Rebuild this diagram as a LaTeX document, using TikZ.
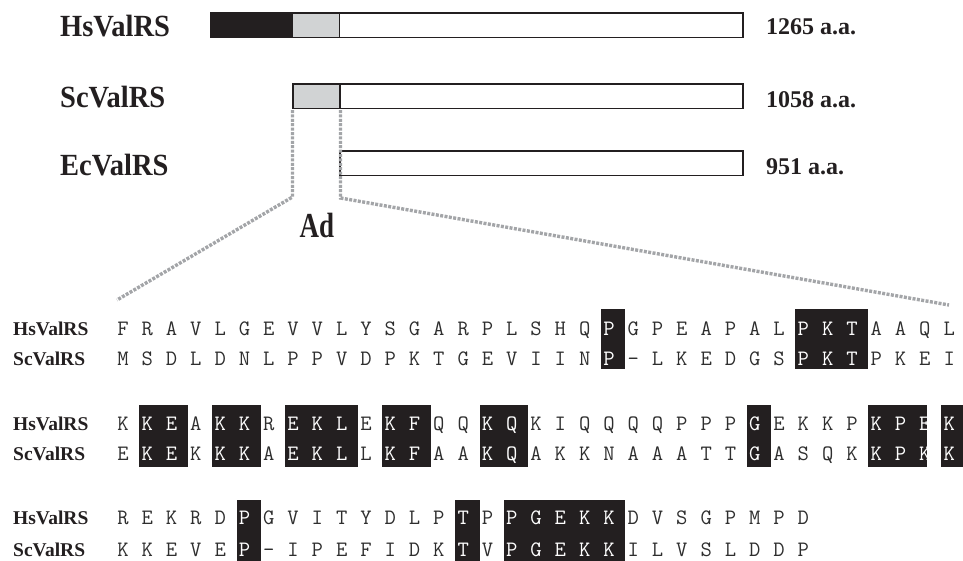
\documentclass[tikz,border=0pt]{standalone}
\usepackage{fontspec}
\setmainfont{Liberation Serif}
\definecolor{ink}{HTML}{231F20}
\definecolor{domgray}{HTML}{D1D3D4}
\definecolor{dashgray}{HTML}{A3A5A8}
\definecolor{seqink}{HTML}{2E2E2E}

% choose the letter colour of column #1: white when listed in #2
\makeatletter
\newcommand\pickink[2]{%
  \edef\pk@tmp{\noexpand\in@{,#1,}{#2}}\pk@tmp
  \ifin@\def\inkcol{white}\else\def\inkcol{seqink}\fi}
\makeatother

% column geometry of the alignment
\def\cx{123}
\def\cw{24.3}
% shaded columns of each block
\def\hlA{,21,29,30,31,}
\def\hlB{,2,3,5,6,8,9,10,12,13,16,17,27,32,33,34,35,}
\def\hlC{,6,15,17,18,19,20,21,}

\tikzset{
  biglabel/.style={font=\bfseries\fontsize{28.5}{30}\selectfont, text=ink, inner sep=0pt},
  lenlabel/.style={font=\bfseries\fontsize{24}{26}\selectfont, text=ink, inner sep=0pt},
  seqlabel/.style={font=\bfseries\fontsize{19.5}{21}\selectfont, text=ink, inner sep=0pt, anchor=base west},
  letter/.style={font=\ttfamily\fontsize{22}{22}\selectfont, inner sep=0pt, anchor=base},
  barline/.style={draw=ink, line width=1.8pt},
  zoomline/.style={draw=dashgray, line width=3.4pt, dash pattern=on 3pt off 1.4pt},
  shade/.style={fill=ink},
}

\begin{document}
\begin{tikzpicture}[x=1pt,y=-1pt]
\useasboundingbox (0,0) rectangle (963,560);

% ---------- domain bars ----------
\node[biglabel, anchor=base west] (lblHs) at (60,36) {\scalebox{1}[1.08]{HsValRS}};
\node[biglabel, anchor=base west] (lblSc) at (60,107) {\scalebox{1}[1.08]{ScValRS}};
\node[biglabel, anchor=base west] (lblEc) at (60,175) {\scalebox{1}[1.08]{EcValRS}};

\fill[ink] (211,13) rectangle (293,37.5);
\fill[domgray] (293,13) rectangle (339.5,37.5);
\draw[barline] (211,13) rectangle (743,37.5);
\draw[barline] (339.5,13) -- (339.5,37.5);

\fill[domgray] (293,84) rectangle (340,108.5);
\draw[barline] (293,84) rectangle (743,108.5);
\draw[barline] (340,84) -- (340,108.5);

\draw[barline] (340,151) rectangle (743,175.5);

\node[lenlabel, anchor=base west] (lenHs) at (766,34) {1265 a.a.};
\node[lenlabel, anchor=base west] (lenSc) at (766,107) {1058 a.a.};
\node[lenlabel, anchor=base west] (lenEc) at (766,174) {951 a.a.};

% ---------- zoom lines from the Ad domain ----------
\coordinate (adL) at (292.5,110);
\coordinate (adR) at (340.5,110);
\coordinate (bendL) at (292.5,197);
\coordinate (bendR) at (340.5,198);
\coordinate (endL) at (117,300);
\coordinate (endR) at (949,305);
\draw[zoomline] (adL) -- (bendL) -- (endL);
\draw[zoomline] (adR) -- (bendR) -- (endR);
\node[biglabel, font=\bfseries\fontsize{27}{28}\selectfont, anchor=base] (ad) at (317,237) {\scalebox{1}[1.3]{Ad}};

% ---------- alignment, block 1 ----------
\node[seqlabel] (hsA) at (13,335) {HsValRS};
\node[seqlabel] (scA) at (13,365) {ScValRS};
\foreach \a/\b/\r in {21/21/16.3, 29/31/16.3}
  \fill[shade] ({\cx+\cw*(\a-1)-8},309) rectangle ({\cx+\cw*(\b-1)+\r},369);
\foreach \ch [count=\i] in {F,R,A,V,L,G,E,V,V,L,Y,S,G,A,R,P,L,S,H,Q,P,G,P,E,A,P,A,L,P,K,T,A,A,Q,L}
  {\pickink{\i}{\hlA}\node[letter, text=\inkcol] (h1-\i) at ({\cx+\cw*(\i-1)},335) {\ch};}
\foreach \ch [count=\i] in {M,S,D,L,D,N,L,P,P,V,D,P,K,T,G,E,V,I,I,N,P,-,L,K,E,D,G,S,P,K,T,P,K,E,I}
  {\pickink{\i}{\hlA}\node[letter, text=\inkcol] (s1-\i) at ({\cx+\cw*(\i-1)},365) {\ch};}

% ---------- alignment, block 2 ----------
\node[seqlabel] (hsB) at (13,430) {HsValRS};
\node[seqlabel] (scB) at (13,460) {ScValRS};
\foreach \a/\b/\r in {2/3/16.3, 5/6/16.3, 8/10/16.3, 12/13/16.3, 16/17/16.3, 27/27/16.3, 32/34/2, 35/35/16.3}
  \fill[shade] ({\cx+\cw*(\a-1)-8},405) rectangle ({\cx+\cw*(\b-1)+\r},467);
\foreach \ch [count=\i] in {K,K,E,A,K,K,R,E,K,L,E,K,F,Q,Q,K,Q,K,I,Q,Q,Q,Q,P,P,P,G,E,K,K,P,K,P,E,K}
  {\pickink{\i}{\hlB}\node[letter, text=\inkcol] (h2-\i) at ({\cx+\cw*(\i-1)},430) {\ch};}
\foreach \ch [count=\i] in {E,K,E,K,K,K,A,E,K,L,L,K,F,A,A,K,Q,A,K,K,N,A,A,A,T,T,G,A,S,Q,K,K,P,K,K}
  {\pickink{\i}{\hlB}\node[letter, text=\inkcol] (s2-\i) at ({\cx+\cw*(\i-1)},460) {\ch};}

% ---------- alignment, block 3 ----------
\node[seqlabel] (hsC) at (13,524.5) {HsValRS};
\node[seqlabel] (scC) at (13,556) {ScValRS};
\foreach \a/\b/\r in {6/6/16.3, 15/15/16.3, 17/21/16.3}
  \fill[shade] ({\cx+\cw*(\a-1)-8},500) rectangle ({\cx+\cw*(\b-1)+\r},563);
\foreach \ch [count=\i] in {R,E,K,R,D,P,G,V,I,T,Y,D,L,P,T,P,P,G,E,K,K,D,V,S,G,P,M,P,D}
  {\pickink{\i}{\hlC}\node[letter, text=\inkcol] (h3-\i) at ({\cx+\cw*(\i-1)},524.5) {\ch};}
\foreach \ch [count=\i] in {K,K,E,V,E,P,-,I,P,E,F,I,D,K,T,V,P,G,E,K,K,I,L,V,S,L,D,D,P}
  {\pickink{\i}{\hlC}\node[letter, text=\inkcol] (s3-\i) at ({\cx+\cw*(\i-1)},556) {\ch};}
\end{tikzpicture}
\end{document}
